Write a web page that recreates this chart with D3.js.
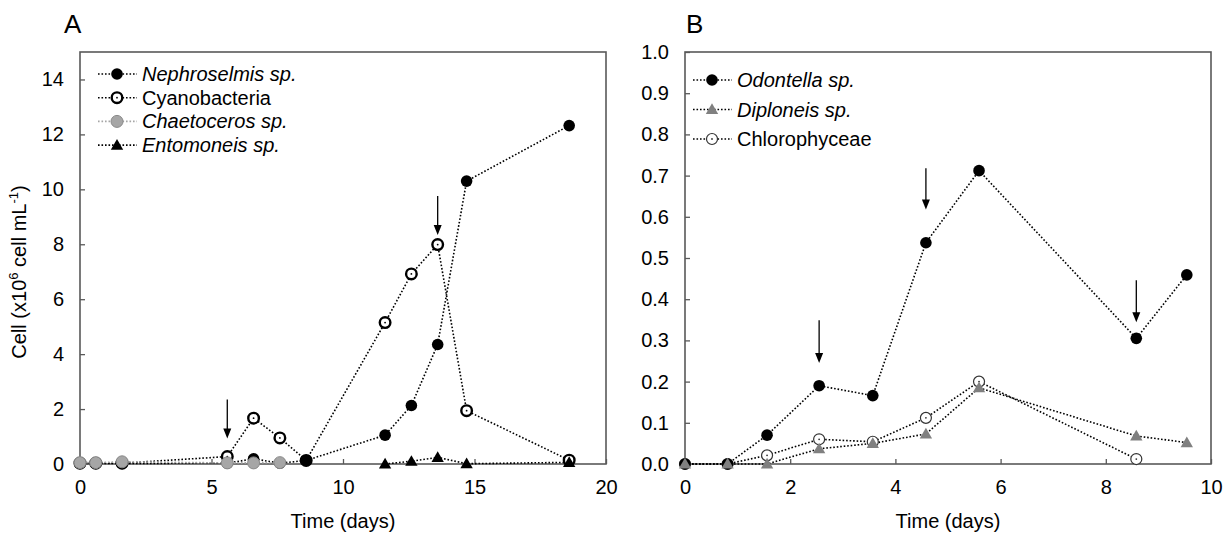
<!DOCTYPE html>
<html>
<head>
<meta charset="utf-8">
<script src="https://cdn.jsdelivr.net/npm/d3@7"></script>
<style>
  html, body { margin: 0; padding: 0; background: #fff; }
  svg { display: block; font-family: "Liberation Sans", Arial, sans-serif; }
</style>
</head>
<body>
<svg id="chart" width="1231" height="534"></svg>
<script>
// ---------------- Panel A data ----------------
const ticksAx = [0, 5, 10, 15, 20];
const ticksAy = [0, 2, 4, 6, 8, 10, 12, 14];
const daysNeph = [0, 0.6, 1.6, 5.6, 6.6, 7.6, 8.6, 11.6, 12.6, 13.6, 14.7, 18.6];
const nephroselmis = [0.02, 0.02, 0.02, 0.03, 0.19, 0.03, 0.13, 1.05, 2.13, 4.35, 10.3, 12.32];
const daysCyano = [0, 0.6, 1.6, 5.6, 6.6, 7.6, 8.6, 11.6, 12.6, 13.6, 14.7, 18.6];
const cyanobacteria = [0.03, 0.03, 0.03, 0.27, 1.67, 0.95, 0.13, 5.15, 6.92, 7.99, 1.94, 0.14];
const daysChaeto = [0, 0.6, 1.6, 5.6, 6.6, 7.6];
const chaetoceros = [0.05, 0.05, 0.08, 0.04, 0.04, 0.05];
const daysEnto = [11.6, 12.6, 13.6, 14.7, 18.6];
const entomoneis = [0.0, 0.1, 0.24, 0.01, 0.06];
const arrowsAx = [5.6, 13.6];
const arrowsAtop = [2.35, 9.76];
const arrowsAtip = [0.93, 8.34];

// ---------------- Panel B data ----------------
const ticksBx = [0, 2, 4, 6, 8, 10];
const ticksBy = [0, 0.1, 0.2, 0.3, 0.4, 0.5, 0.6, 0.7, 0.8, 0.9, 1.0];
const daysB = [0, 0.81, 1.56, 2.55, 3.57, 4.58, 5.59, 8.58, 9.54];
const odontella = [0.0, 0.0, 0.07, 0.19, 0.166, 0.537, 0.712, 0.305, 0.459];
const diploneis = [0.0, 0.0, 0.0, 0.037, 0.05, 0.073, 0.185, 0.068, 0.052];
const daysChloro = [0, 0.81, 1.56, 2.55, 3.57, 4.58, 5.59, 8.58];
const chlorophyceae = [0.0, 0.0, 0.021, 0.06, 0.054, 0.112, 0.2, 0.012];
const arrowsBx = [2.55, 4.58, 8.58];
const arrowsBtop = [0.349, 0.718, 0.446];
const arrowsBtip = [0.245, 0.618, 0.344];

const svg = d3.select("#chart");
const FS = 20;
const AXIS = "#595959";

function drawMarker(g, type, x, y) {
  if (type === "black") {
    g.append("circle").attr("cx", x).attr("cy", y).attr("r", 5.8).attr("fill", "#000");
  } else if (type === "ring") {
    g.append("circle").attr("cx", x).attr("cy", y).attr("r", 5.3)
      .attr("fill", "#fff").attr("stroke", "#000").attr("stroke-width", 2.4);
    g.append("circle").attr("cx", x).attr("cy", y).attr("r", 0.9).attr("fill", "#000");
  } else if (type === "gray") {
    g.append("circle").attr("cx", x).attr("cy", y).attr("r", 6)
      .attr("fill", "#a6a6a6").attr("stroke", "#8a8a8a").attr("stroke-width", 1);
  } else if (type === "tri") {
    g.append("path").attr("transform", `translate(${x},${y + 1})`)
      .attr("d", d3.symbol(d3.symbolTriangle, 66)()).attr("fill", "#000");
  } else if (type === "graytri") {
    g.append("path").attr("transform", `translate(${x},${y + 1})`)
      .attr("d", d3.symbol(d3.symbolTriangle, 66)()).attr("fill", "#808080");
  } else if (type === "thin") {
    g.append("circle").attr("cx", x).attr("cy", y).attr("r", 5.5)
      .attr("fill", "#fff").attr("stroke", "#333").attr("stroke-width", 1.2);
    g.append("circle").attr("cx", x).attr("cy", y).attr("r", 0.9).attr("fill", "#333");
  }
}

function panel(cfg) {
  const g = svg.append("g");
  const x = d3.scaleLinear().domain(cfg.xDomain).range([cfg.left, cfg.right]);
  const y = d3.scaleLinear().domain(cfg.yDomain).range([cfg.bottom, cfg.top]);

  // axes (inward ticks)
  const xAxis = d3.axisBottom(x).tickValues(cfg.xTicks).tickSize(-5).tickPadding(14).tickFormat(d3.format("d"));
  const yAxis = d3.axisLeft(y).tickValues(cfg.yTicks).tickSize(-5).tickPadding(16).tickFormat(cfg.yFormat);
  const gx = g.append("g").attr("transform", `translate(0,${cfg.bottom})`).call(xAxis);
  const gy = g.append("g").attr("transform", `translate(${cfg.left},0)`).call(yAxis);
  [gx, gy].forEach(a => {
    a.select(".domain").remove();
    a.selectAll(".tick line").attr("stroke", AXIS).attr("stroke-width", 1.3);
    a.selectAll(".tick text").attr("font-size", FS).attr("fill", "#000")
      .attr("font-family", "Liberation Sans, Arial, sans-serif");
  });
  gx.selectAll(".tick text").attr("dy", "0.8em");
  // box
  g.append("rect").attr("x", cfg.left).attr("y", cfg.top)
    .attr("width", cfg.right - cfg.left).attr("height", cfg.bottom - cfg.top)
    .attr("fill", "none").attr("stroke", AXIS).attr("stroke-width", 1.6);

  // x title
  g.append("text").attr("x", (cfg.left + cfg.right) / 2).attr("y", 528)
    .attr("text-anchor", "middle").attr("font-size", FS).text("Time (days)");
  // panel letter
  g.append("text").attr("x", cfg.letterX).attr("y", 33).attr("font-size", 26).text(cfg.letter);

  // series
  const line = d3.line().x(d => x(d[0])).y(d => y(d[1]));
  cfg.series.forEach(s => {
    const pts = s.days.map((d, i) => [d, s.values[i]]);
    g.append("path").datum(pts).attr("d", line).attr("fill", "none")
      .attr("stroke", s.lineColor).attr("stroke-width", 1.6).attr("stroke-dasharray", "1.6,1.9");
  });
  cfg.series.forEach(s => {
    s.days.forEach((d, i) => drawMarker(g, s.marker, x(d), y(s.values[i])));
  });

  // arrows
  cfg.arrows.x.forEach((ax, i) => {
    const px = x(ax), y0 = y(cfg.arrows.top[i]), y1 = y(cfg.arrows.tip[i]);
    g.append("line").attr("x1", px).attr("x2", px).attr("y1", y0).attr("y2", y1 - 8)
      .attr("stroke", "#000").attr("stroke-width", 1.3);
    g.append("path").attr("d", `M${px - 4},${y1 - 10} L${px + 4},${y1 - 10} L${px},${y1} Z`).attr("fill", "#000");
  });

  // legend
  cfg.series.slice().sort((a, b) => a.legendOrder - b.legendOrder).forEach((s, i) => {
    const ly = cfg.legend.y0 + i * cfg.legend.dy;
    g.append("line").attr("x1", cfg.legend.x0).attr("x2", cfg.legend.x0 + 39)
      .attr("y1", ly).attr("y2", ly).attr("stroke", s.lineColor)
      .attr("stroke-width", 1.6).attr("stroke-dasharray", "1.6,1.9");
    drawMarker(g, s.marker, cfg.legend.x0 + 19, ly);
    g.append("text").attr("x", cfg.legend.x0 + 44).attr("y", ly).attr("dy", "0.35em")
      .attr("font-size", FS).attr("font-style", s.italic ? "italic" : "normal").text(s.name);
  });
  return g;
}

panel({
  letter: "A", letterX: 64,
  left: 80, right: 606, top: 52, bottom: 464,
  xDomain: [0, 20], yDomain: [0, 15],
  xTicks: ticksAx, yTicks: ticksAy, yFormat: d3.format("d"),
  series: [
    { name: "Cyanobacteria", days: daysCyano, values: cyanobacteria, marker: "ring", lineColor: "#000", italic: false, legendOrder: 1 },
    { name: "Nephroselmis sp.", days: daysNeph, values: nephroselmis, marker: "black", lineColor: "#000", italic: true, legendOrder: 0 },
    { name: "Chaetoceros sp.", days: daysChaeto, values: chaetoceros, marker: "gray", lineColor: "#a6a6a6", italic: true, legendOrder: 2 },
    { name: "Entomoneis sp.", days: daysEnto, values: entomoneis, marker: "tri", lineColor: "#000", italic: true, legendOrder: 3 }
  ],
  arrows: { x: arrowsAx, top: arrowsAtop, tip: arrowsAtip },
  legend: { x0: 98, y0: 74, dy: 23.7 }
});

panel({
  letter: "B", letterX: 686,
  left: 685, right: 1211, top: 52, bottom: 464,
  xDomain: [0, 10], yDomain: [0, 1.0],
  xTicks: ticksBx, yTicks: ticksBy, yFormat: d3.format(".1f"),
  series: [
    { name: "Chlorophyceae", days: daysChloro, values: chlorophyceae, marker: "thin", lineColor: "#000", italic: false, legendOrder: 2 },
    { name: "Odontella sp.", days: daysB, values: odontella, marker: "black", lineColor: "#000", italic: true, legendOrder: 0 },
    { name: "Diploneis sp.", days: daysB, values: diploneis, marker: "graytri", lineColor: "#000", italic: true, legendOrder: 1 }
  ],
  arrows: { x: arrowsBx, top: arrowsBtop, tip: arrowsBtip },
  legend: { x0: 693, y0: 80, dy: 29.5 }
});

// y title (panel A)
const yt = svg.append("text").attr("transform", "translate(26,272) rotate(-90)")
  .attr("text-anchor", "middle").attr("font-size", FS);
yt.append("tspan").text("Cell (x10");
yt.append("tspan").attr("font-size", 13).attr("dy", -8).text("6");
yt.append("tspan").attr("dy", 8).text(" cell mL");
yt.append("tspan").attr("font-size", 13).attr("dy", -8).text("-1");
yt.append("tspan").attr("dy", 8).text(")");
</script>
</body>
</html>
